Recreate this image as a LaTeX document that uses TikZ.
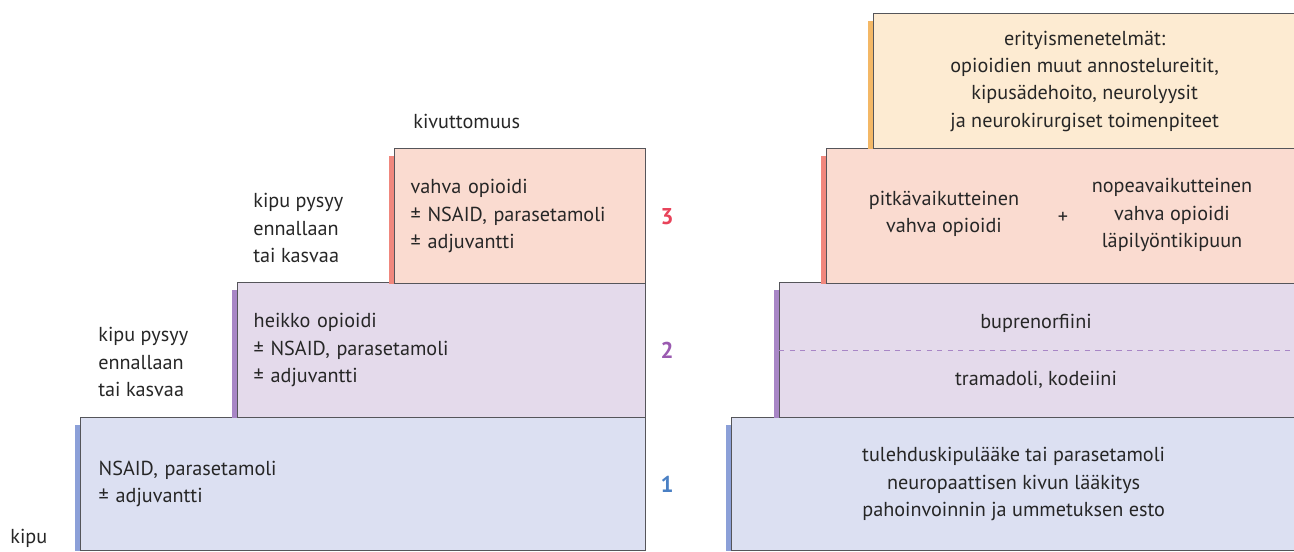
\documentclass[tikz,border=0pt]{standalone}
\usepackage{fontspec}
\setmainfont{PT Sans}
\usetikzlibrary{positioning,calc}

\definecolor{boxline}{HTML}{55555A}
\definecolor{bluefill}{HTML}{DCE0F2}
\definecolor{bluebar}{HTML}{8CA0D8}
\definecolor{bluenum}{HTML}{4A80C4}
\definecolor{violetfill}{HTML}{E4DAEB}
\definecolor{violetbar}{HTML}{A886C6}
\definecolor{violetnum}{HTML}{9A5AB0}
\definecolor{pinkfill}{HTML}{FADBD0}
\definecolor{pinkbar}{HTML}{F0877D}
\definecolor{rednum}{HTML}{E8435A}
\definecolor{orangefill}{HTML}{FDEBD2}
\definecolor{orangebar}{HTML}{F4B866}

\begin{document}
\begin{tikzpicture}[x=0.02cm,y=-0.02cm,
    every node/.style={font=\fontsize{11.5}{15.5}\selectfont,text=black!85},
    box/.style={draw=boxline,line width=0.8pt,anchor=north west,inner sep=0pt,minimum height=2.7cm},
    lbox/.style={box,align=left,inner xsep=0.32cm},
    rbox/.style={box,align=center},
    txt/.style={align=left,inner sep=0pt},
    num/.style={font=\fontsize{13}{15}\selectfont\bfseries,inner sep=0pt}]

  \useasboundingbox (0,0) rectangle (1294,551);

  % left staircase
  \node[lbox,fill=bluefill,minimum height=2.66cm,text width=10.58cm,inner xsep=0.36cm,
        minimum width=11.3cm] (l1) at (80,417)
    {NSAID, parasetamoli\\ ± adjuvantti};
  \node[lbox,fill=violetfill,text width=7.52cm,minimum width=8.16cm] (l2) at (237,282)
    {heikko opioidi\\ ± NSAID, parasetamoli\\ ± adjuvantti};
  \node[lbox,fill=pinkfill,text width=4.38cm,minimum width=5.02cm] (l3) at (394,148)
    {vahva opioidi\\ ± NSAID, parasetamoli\\ ± adjuvantti};
  \fill[bluebar] ($(l1.north west)+(-5,8)$) rectangle (l1.south west);
  \fill[violetbar] ($(l2.north west)+(-5,8)$) rectangle (l2.south west);
  \fill[pinkbar] ($(l3.north west)+(-5,8)$) rectangle (l3.south west);

  \node[num,text=bluenum,right=0.28cm of l1.east] (n1) {1};
  \node[num,text=violetnum,right=0.28cm of l2.east] (n2) {2};
  \node[num,text=rednum,right=0.28cm of l3.east] (n3) {3};

  \node[txt,anchor=west] (kipu) at (10,538) {kipu};
  \node[txt,anchor=west] (step1) at (98,362) {kipu pysyy\\ennallaan\\tai kasvaa};
  \node[txt,anchor=west] (step2) at (253,228) {kipu pysyy\\ennallaan\\tai kasvaa};
  \node[txt,anchor=west] (goal) at (413,121) {kivuttomuus};

  % right staircase
  \node[rbox,fill=bluefill,minimum width=11.28cm,minimum height=2.66cm] (r1) at (731,417)
    {tulehduskipulääke tai parasetamoli\\ neuropaattisen kivun lääkitys\\ pahoinvoinnin ja ummetuksen esto};
  \node[rbox,fill=violetfill,minimum width=10.32cm] (r2) at (779,282) {};
  \node[rbox,fill=pinkfill,minimum width=9.38cm] (r3) at (826,148) {};
  \node[rbox,fill=orangefill,minimum width=8.44cm] (r4) at (873,13)
    {erityismenetelmät:\\ opioidien muut annostelureitit,\\ kipusädehoito, neurolyysit\\ ja neurokirurgiset toimenpiteet};
  \fill[bluebar] ($(r1.north west)+(-5,8)$) rectangle (r1.south west);
  \fill[violetbar] ($(r2.north west)+(-5,8)$) rectangle (r2.south west);
  \fill[pinkbar] ($(r3.north west)+(-5,8)$) rectangle (r3.south west);
  \fill[orangebar] ($(r4.north west)+(-5,8)$) rectangle (r4.south west);

  \draw[violetbar,dashed,line width=0.7pt] (r2.west) -- (r2.east);
  \node[txt] (bupre) at (1036,323) {buprenorfiini};
  \node[txt] (trama) at (1036,380) {tramadoli, kodeiini};

  \node[txt,align=center] (long) at (944,214) {pitkävaikutteinen\\ vahva opioidi};
  \node[txt] (plus) at (1063,218) {+};
  \node[txt,align=center] (fast) at (1172,215) {nopeavaikutteinen\\ vahva opioidi\\ läpilyöntikipuun};
\end{tikzpicture}
\end{document}
